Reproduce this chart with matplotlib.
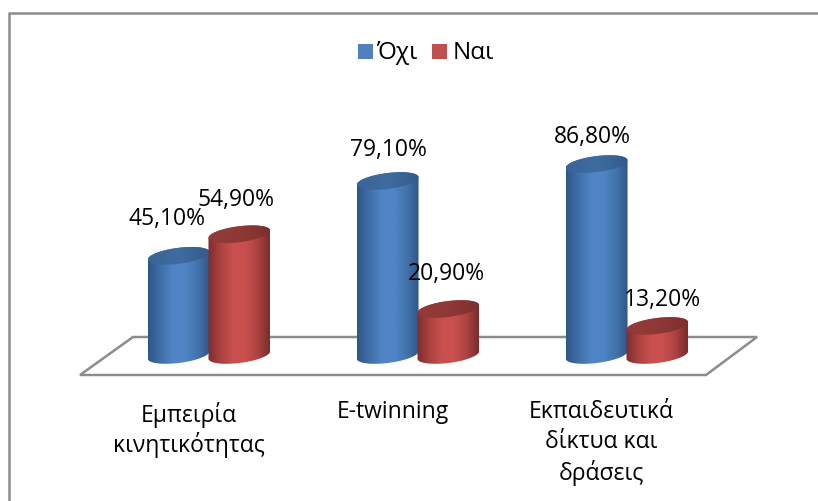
import numpy as np
import matplotlib
matplotlib.use("Agg")
import matplotlib.pyplot as plt
from matplotlib.colors import LinearSegmentedColormap
from matplotlib.patches import Polygon, Rectangle

categories = ["Εμπειρία\nκινητικότητας", "E-twinning", "Εκπαιδευτικά\nδίκτυα και\nδράσεις"]
series_names = ["Όχι", "Ναι"]
ochi = [45.1, 79.1, 86.8]
nai = [54.9, 20.9, 13.2]

plt.rcParams["font.family"] = ["Open Sans", "DejaVu Sans"]
W, H = 818, 501
fig = plt.figure(figsize=(W / 100, H / 100), dpi=100, facecolor="white")
ax = fig.add_axes([0, 0, 1, 1])

PX_X = 209.0   # pixels per category
PX_Y = 2.2     # pixels per percentage point
X0, Y0 = 209.0, 355.0
ax.set_xlim(-X0 / PX_X, (W - X0) / PX_X)
ax.set_ylim(-(H - Y0) / PX_Y, Y0 / PX_Y)
ax.axis("off")

def px(x, y):
    return (x - X0) / PX_X, (Y0 - y) / PX_Y

# outer frame
fig.add_artist(plt.Line2D([8.5 / W, 8.5 / W, 1], [0, 1 - 12.5 / H, 1 - 12.5 / H], color="#8c8c8c", lw=1.8))

# floor
floor = [px(80, 375), px(133, 337), px(757, 337), px(706, 375)]
ax.add_patch(Polygon(floor, closed=True, fc="white", ec="#8c8c8c", lw=1.8, zorder=1, joinstyle="miter"))

BAR_W = 0.29
A = 0.1475
B = 8.0 / PX_Y
TILT = 0.12 * (PX_X / PX_Y)

def cyl(xc, v, stops, top_stops, z):
    t = np.linspace(0, 2 * np.pi, 121)
    ex = A * np.cos(t)
    ey = B * np.sin(t) + TILT * ex
    tb = np.linspace(np.pi, 2 * np.pi, 61)   # lower arc of base
    tt = np.linspace(0, np.pi, 61)           # upper arc of top
    xs = np.r_[xc + A * np.cos(tb), xc + A * np.cos(tt)]
    ys = np.r_[B * np.sin(tb) + TILT * A * np.cos(tb), v + B * np.sin(tt) + TILT * A * np.cos(tt)]
    body = Polygon(np.c_[xs, ys], closed=True, fc="none", ec="none", transform=ax.transData)
    ax.add_patch(body)
    cmap = LinearSegmentedColormap.from_list("b", stops)
    ext = (xc - A, xc + A, -3 * B, v + 3 * B)
    im = ax.imshow(np.linspace(0, 1, 128)[None, :], cmap=cmap, extent=ext, aspect="auto", zorder=z, interpolation="bilinear")
    im.set_clip_path(body)
    top = Polygon(np.c_[xc + ex, v + ey], closed=True, fc="none", ec="none", transform=ax.transData)
    ax.add_patch(top)
    cmap2 = LinearSegmentedColormap.from_list("t", top_stops)
    im2 = ax.imshow(np.linspace(0, 1, 128)[None, :], cmap=cmap2, extent=(xc - A, xc + A, v - 2 * B, v + 2 * B), aspect="auto", zorder=z + 0.1, interpolation="bilinear")
    im2.set_clip_path(top)

BLUE = ["#2f5688", "#3f6fa8", "#4f84c6", "#4f84c6", "#4474ad", "#2f5688"]
BLUE_TOP = ["#3a6497", "#3f6c9f", "#335b8c"]
RED = ["#7c2e2c", "#ab4240", "#c9504e", "#c9504e", "#ad4341", "#792d2b"]
RED_TOP = ["#923b39", "#8f3937", "#7d302e"]

for i in range(3):
    cyl(i - BAR_W / 2, ochi[i], BLUE, BLUE_TOP, 3 + i)
    cyl(i + BAR_W / 2, nai[i], RED, RED_TOP, 3.5 + i)

ax.set_xlim(-X0 / PX_X, (W - X0) / PX_X)
ax.set_ylim(-(H - Y0) / PX_Y, Y0 / PX_Y)

FS = 16.5
ochi_pos = [(167, 219), (388, 150), (592, 137)]
nai_pos = [(236, 200), (446, 274), (662, 300)]

def pct(v):
    return f"{v:.2f}".replace(".", ",") + "%"

for i in range(3):
    ax.text(*px(*ochi_pos[i]), pct(ochi[i]), ha="center", va="center", fontsize=FS, color="#000000", zorder=20)
    ax.text(*px(*nai_pos[i]), pct(nai[i]), ha="center", va="center", fontsize=FS, color="#000000", zorder=20)

cat_pos = [(189, 430), (393, 412), (601, 443)]
cat_spacing = [1.16, 1.16, 1.3]
for i, c in enumerate(categories):
    ax.text(*px(*cat_pos[i]), c, ha="center", va="center", fontsize=FS, color="#000000", linespacing=cat_spacing[i])

# legend
for name, col, sx, tx in [(series_names[0], "#4f81bd", 358, 376), (series_names[1], "#c0504d", 432, 453)]:
    ax.add_patch(Rectangle(px(sx, 59), 15 / PX_X, 15 / PX_Y, fc=col, ec="none"))
    ax.text(*px(tx, 53), name, ha="left", va="center", fontsize=17.5, color="#000000")

fig.savefig("out.png", dpi=100)
